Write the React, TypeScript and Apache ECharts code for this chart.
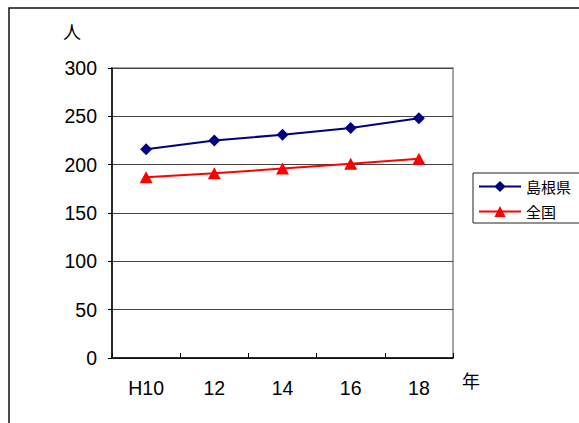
import React, { useEffect, useRef } from "react";
import * as echarts from "echarts";

const categories = ["H10", "12", "14", "16", "18"];
const shimane = [216, 225, 231, 238, 248];
const national = [187, 191, 196, 201, 206];
const seriesNames = ["島根県", "全国"];
const yTicks = { min: 0, max: 300, interval: 50 };
const yUnit = "人";
const xUnit = "年";

const FONT = '"Liberation Sans", "Noto Sans CJK JP", sans-serif';
const CJK = '"Noto Sans CJK JP", "Noto Sans", sans-serif';

export default function App() {
  const ref = useRef<HTMLDivElement>(null);
  useEffect(() => {
    if (!ref.current) return;
    const chart = echarts.init(ref.current, undefined, { renderer: "svg" });
    chart.setOption({
      animation: false,
      backgroundColor: "#ffffff",
      textStyle: { fontFamily: FONT, color: "#000" },
      graphic: [
        {
          type: "rect",
          shape: { x: 9, y: 8, width: 700, height: 600 },
          style: { fill: "none", stroke: "#111", lineWidth: 1.5 },
          silent: true,
          z: -10,
        },
        {
          type: "text",
          x: 72,
          y: 31,
          style: {
            text: yUnit,
            font: `18px ${CJK}`,
            fill: "#000",
            align: "center",
            verticalAlign: "middle",
          },
        },
        {
          type: "text",
          x: 471,
          y: 380,
          style: {
            text: xUnit,
            font: `18px ${CJK}`,
            fill: "#000",
            align: "center",
            verticalAlign: "middle",
          },
        },
      ],
      grid: {
        left: 112,
        top: 68,
        width: 341,
        height: 290,
        show: true,
        borderColor: "#888",
        borderWidth: 1.5,
        backgroundColor: "transparent",
        containLabel: false,
      },
      legend: {
        orient: "vertical",
        left: 473,
        top: 173,
        padding: [6, 10, 4, 5],
        itemGap: 10,
        itemWidth: 42,
        itemHeight: 14,
        backgroundColor: "#fff",
        borderColor: "#222",
        borderWidth: 1,
        borderRadius: 0,
        textStyle: { fontSize: 15, fontFamily: CJK, color: "#000" },
        data: seriesNames,
      },
      xAxis: {
        type: "category",
        data: categories,
        boundaryGap: true,
        axisLine: { lineStyle: { color: "#000", width: 1.5 } },
        axisTick: { show: true, inside: true, length: 5, interval: 0, lineStyle: { color: "#000" } },
        axisLabel: { fontSize: 19.5, fontFamily: FONT, color: "#000", margin: 20, interval: 0 },
        splitLine: { show: false },
      },
      yAxis: {
        type: "value",
        min: yTicks.min,
        max: yTicks.max,
        interval: yTicks.interval,
        axisLine: { show: true, lineStyle: { color: "#000", width: 1.5 } },
        axisTick: { show: true, inside: false, length: 4, lineStyle: { color: "#000" } },
        axisLabel: { fontSize: 19.5, fontFamily: FONT, color: "#000", margin: 15 },
        splitLine: { show: true, lineStyle: { color: "#444", width: 1 } },
      },
      series: [
        {
          name: seriesNames[0],
          type: "line",
          data: shimane,
          symbol: "diamond",
          symbolSize: 12,
          itemStyle: { color: "#000080" },
          lineStyle: { color: "#000080", width: 2 },
        },
        {
          name: seriesNames[1],
          type: "line",
          data: national,
          symbol: "triangle",
          symbolSize: [13, 12],
          itemStyle: { color: "#ff0000" },
          lineStyle: { color: "#ff0000", width: 2 },
        },
      ],
    });
    return () => chart.dispose();
  }, []);
  return (
    <div
      ref={ref}
      style={{ position: "fixed", left: 0, top: 0, width: 579, height: 423 }}
    />
  );
}
